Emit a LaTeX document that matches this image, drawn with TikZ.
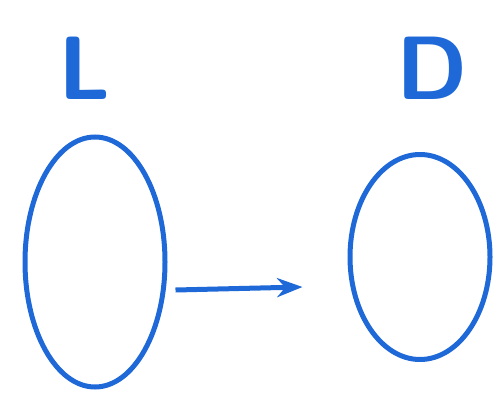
\documentclass[tikz,border=0pt]{standalone}
\usepackage{tikz}
\usetikzlibrary{arrows.meta,positioning,shapes.geometric}
\definecolor{InkBlue}{RGB}{30,105,215}
\begin{document}
\begin{tikzpicture}[x=1pt,y=-1pt,>=Stealth,
  blob/.style={draw=InkBlue,ellipse,line width=5pt,inner sep=0pt},
  tag/.style={text=InkBlue,font=\fontsize{90}{90}\selectfont\sffamily\bfseries},
  arrowline/.style={->,draw=InkBlue,line width=5pt}]
\useasboundingbox (0,0) rectangle (497,396);
\node[blob,minimum width=140,minimum height=250] (l) at (95,262) {};
\node[blob,minimum width=140,minimum height=205] (d) at (420,257) {};
\node[tag] (lt) at (85,68) {L};
\node[tag] (dt) at (432,68) {D};
\draw[arrowline] ([xshift=8pt,yshift=-28pt]l.east) -- ([xshift=-45pt,yshift=-30pt]d.west);
\end{tikzpicture}
\end{document}
